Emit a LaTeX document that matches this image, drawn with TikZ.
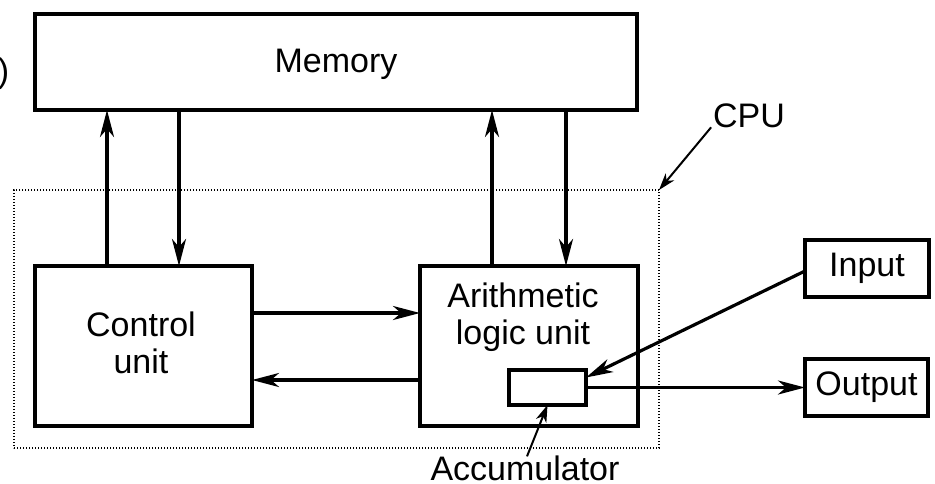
\documentclass[tikz,border=0pt]{standalone}
\usepackage{fontspec}
\setmainfont{Liberation Sans}
\usetikzlibrary{arrows.meta}
\begin{document}
\begin{tikzpicture}[x=1pt,y=-1pt,
  box/.style={draw,line width=3.2pt,inner sep=0pt,outer sep=0pt},
  lbl/.style={font=\fontsize{34}{37}\selectfont,inner sep=0pt,outer sep=0pt},
  conn/.style={line width=3.2pt,-{Stealth[length=27pt,width=14pt,inset=8pt]}},
  thinarrow/.style={line width=2pt,-{Stealth[length=17pt,width=11pt,inset=5pt]}},
  cpubox/.style={draw,line width=1.1pt,dash pattern=on 1.1pt off 1.9pt,inner sep=0pt,outer sep=0pt},
]
\useasboundingbox (0,0) rectangle (935,483);
% boxes
\node[box,minimum width=602pt,minimum height=96pt] (mem) at (336,62) {};
\node[cpubox,minimum width=645pt,minimum height=258pt] (cpu) at (336.5,319) {};
\node[box,minimum width=217pt,minimum height=160pt] (cu) at (143.5,346) {};
\node[box,minimum width=218pt,minimum height=160pt] (alu) at (529,346) {};
\node[box,minimum width=77pt,minimum height=35pt] (acc) at (547.5,387.5) {};
\node[box,lbl,draw,line width=3.2pt,minimum width=124pt,minimum height=57pt] (in) at (867,268.5) {Input};
\node[box,lbl,draw,line width=3.2pt,minimum width=123pt,minimum height=57pt] (out) at (866.5,387.5) {Output};
% texts
\node[lbl,anchor=base] (memtxt) at (336,72) {Memory};
\node[lbl,align=center] (cutxt) at (141,343) {Control\\unit};
\node[lbl,align=center] (alutxt) at (523,317) {Arithmetic\\logic unit};
\node[lbl,anchor=base] (cpulbl) at (749,127) {CPU};
\node[lbl,anchor=base] (acclbl) at (525,480) {Accumulator};
\node[lbl,anchor=base west] (paren) at (-2,82) {)};
% connectors
\draw[conn] ([xshift=-36.5pt]cu.north) -- ([xshift=-229pt]mem.south);
\draw[conn] ([xshift=-157pt]mem.south) -- ([xshift=35.5pt]cu.north);
\draw[conn] ([xshift=-37pt]alu.north) -- ([xshift=156pt]mem.south);
\draw[conn] ([xshift=230pt]mem.south) -- ([xshift=37pt]alu.north);
\draw[conn] ([yshift=33pt]cu.east) -- ([yshift=33pt]alu.west);
\draw[conn] ([yshift=-34pt]alu.west) -- ([yshift=-34pt]cu.east);
\draw[conn] ([yshift=-2.5pt]in.west) -- ([yshift=10pt]acc.east);
\draw[conn] (acc.east) -- (out.west);
\draw[thinarrow] ([xshift=-2pt]cpulbl.south west) -- (cpu.north east);
\draw[thinarrow] ([xshift=2pt,yshift=-1pt]acclbl.north) -- (acc.south);
\end{tikzpicture}
\end{document}
